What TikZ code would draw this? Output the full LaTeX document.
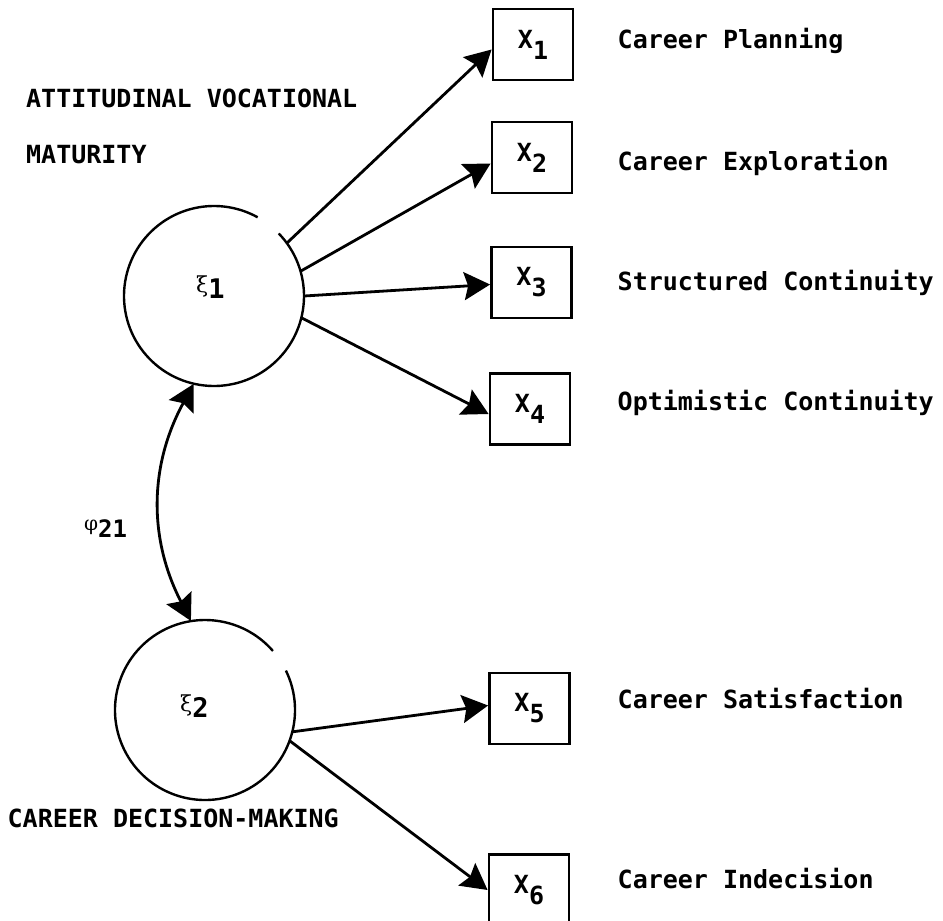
\documentclass[tikz,border=0pt]{standalone}
\usepackage{fontspec}
\usetikzlibrary{arrows.meta}
\newfontfamily\tw{DejaVu Sans Mono}
\newfontfamily\gk{DejaVu Serif}
\newcommand{\sbx}[1]{\raisebox{-11pt}{#1}}
\tikzset{
  twfont/.style={font=\tw\bfseries\fontsize{25}{30}\selectfont},
  lbl/.style={twfont, anchor=base west, inner sep=0pt},
  latent/.style={circle, minimum size=180pt, inner sep=0pt},
  rim/.style={line width=2.4pt},
  obs/.style={draw, line width=2.8pt, minimum width=80pt, minimum height=71pt, inner sep=0pt, twfont},
  tipx/.tip={Stealth[length=26pt,width=28pt,inset=4pt]},
  load/.style={line width=2.8pt, -tipx},
  cov/.style={line width=2.8pt, tipx-tipx}
}
\begin{document}
\begin{tikzpicture}[x=1pt,y=1pt]
\useasboundingbox (0,0) rectangle (943,-921);
\clip (0,0) rectangle (943,-921);

% latent variables
\node[latent] (c1) at (214,-296) {};
\node[latent] (c2) at (205,-710) {};
\draw[rim] ([shift={(44:90pt)}]c1.center) arc[start angle=44, end angle=-299, radius=90pt];
\draw[rim] ([shift={(26:90pt)}]c2.center) arc[start angle=26, end angle=-319, radius=90pt];

\node[anchor=base west, inner sep=0pt] (k1) at (196,-298)
  {\raisebox{6pt}{\gk\fontsize{22}{22}\selectfont ξ}\tw\bfseries\fontsize{27}{30}\selectfont 1};
\node[anchor=base west, inner sep=0pt] (k2) at (180,-717)
  {\raisebox{6pt}{\gk\fontsize{22}{22}\selectfont ξ}\tw\bfseries\fontsize{27}{30}\selectfont 2};
\node[anchor=base west, inner sep=0pt] (phi) at (84,-537)
  {\raisebox{7pt}{\gk\fontsize{20}{20}\selectfont φ}\tw\bfseries\fontsize{24}{28}\selectfont 21};

% observed variables
\node[obs] (X1) at (533,-44.5) {X\sbx{1}};
\node[obs] (X2) at (532,-157.5) {X\sbx{2}};
\node[obs] (X3) at (531.5,-282.5) {X\sbx{3}};
\node[obs] (X4) at (530,-409) {X\sbx{4}};
\node[obs] (X5) at (529.5,-708.5) {X\sbx{5}};
\node[obs] (X6) at (529,-890) {X\sbx{6}};

% labels
\node[lbl] (t1) at (617.5,-48) {Career Planning};
\node[lbl] (t2) at (617.5,-170) {Career Exploration};
\node[lbl] (t3) at (617.5,-290) {Structured Continuity};
\node[lbl] (t4) at (617.5,-410) {Optimistic Continuity};
\node[lbl] (t5) at (617.5,-708) {Career Satisfaction};
\node[lbl] (t6) at (617.5,-888) {Career Indecision};
\node[lbl] (a1) at (26,-107) {ATTITUDINAL VOCATIONAL};
\node[lbl] (a2) at (26,-163) {MATURITY};
\node[lbl] (a3) at (7.5,-827) {CAREER DECISION-MAKING};

% loadings
\draw[load] (c1.36) -- ([yshift=-5pt]X1.west);
\draw[load] (c1.16) -- ([yshift=-6pt]X2.west);
\draw[load] (c1.0) -- ([yshift=-2pt]X3.west);
\draw[load] (c1.-14) -- ([yshift=-5pt]X4.west);
\draw[load] (c2.-14) -- ([yshift=3pt]X5.west);
\draw[load] (c2.-20) -- (X6.west);

% covariance
\draw[cov] (c1.257) to[bend right=28] (c2.99);
\end{tikzpicture}
\end{document}
